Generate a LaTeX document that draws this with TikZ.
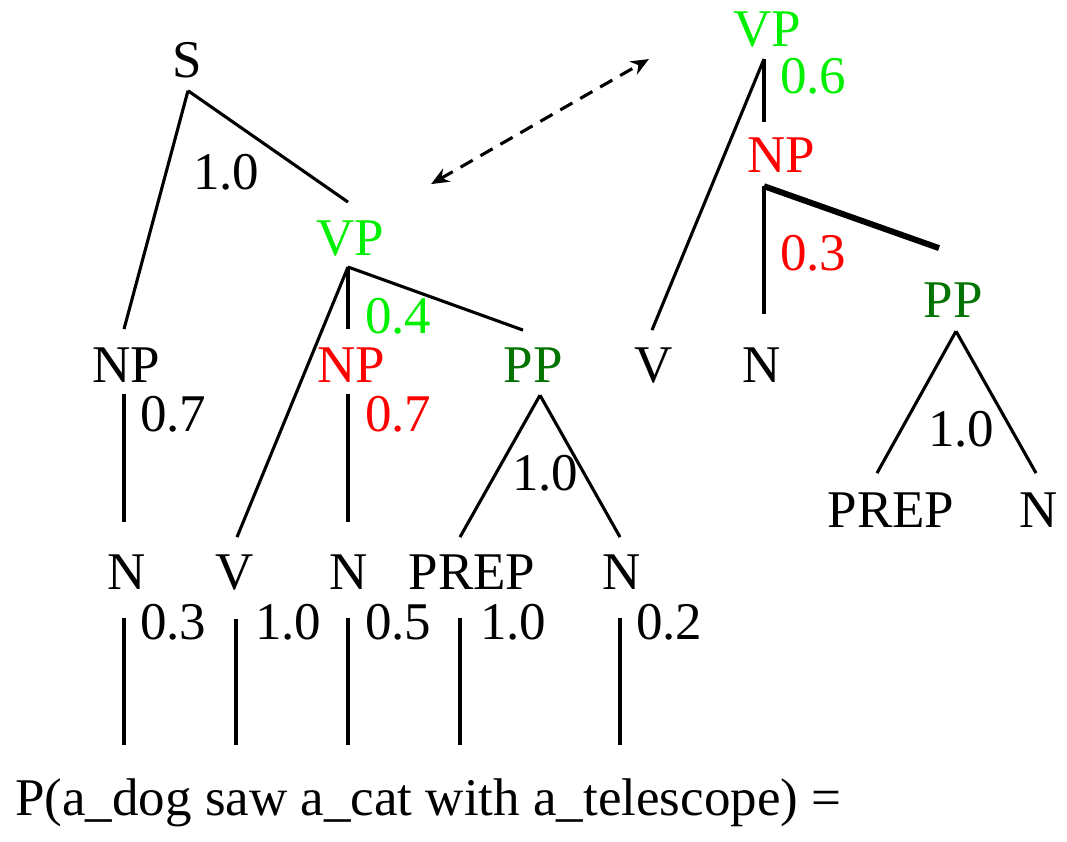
\documentclass[tikz,border=0pt]{standalone}
\usepackage{fontspec}
\setmainfont{Liberation Serif}
\usetikzlibrary{calc,arrows.meta}
\definecolor{lgreen}{RGB}{0,240,0}
\definecolor{dgreen}{RGB}{0,115,0}
\definecolor{pred}{RGB}{255,0,0}
\begin{document}
\begin{tikzpicture}[x=1pt,y=-1pt,
  lab/.style={inner sep=0pt,anchor=base,font=\fontsize{53}{60}\selectfont},
  prob/.style={inner sep=0pt,anchor=base west,font=\fontsize{53}{60}\selectfont},
  edge/.style={line width=3.1pt},
  thickedge/.style={line width=6pt},
  link/.style={line width=3.1pt,dash pattern=on 14pt off 9pt,{Stealth[length=18pt,width=15pt]}-{Stealth[length=18pt,width=15pt]}}]
\useasboundingbox (0,0) rectangle (1067,842);
% left tree nodes
\node[lab] (S) at (187,78) {S};
\node[lab,text=lgreen] (VPa) at (350,255) {VP};
\node[lab] (NPa) at (126,382) {NP};
\node[lab,text=pred] (NPb) at (351,382) {NP};
\node[lab,text=dgreen] (PPa) at (533,382) {PP};
\node[lab] (Na) at (127,589) {N};
\node[lab] (Va) at (235,589) {V};
\node[lab] (Nb) at (349,589) {N};
\node[lab] (PREPa) at (472,589) {PREP};
\node[lab] (Nc) at (622,589) {N};
% probabilities left
\node[prob] (p10s) at (193,190) {1.0};
\node[prob,text=lgreen] (p04) at (365,333) {0.4};
\node[prob] (p07a) at (140,431) {0.7};
\node[prob,text=pred] (p07b) at (365,431) {0.7};
\node[prob] (p10pp) at (512,490) {1.0};
\node[prob] (p03n) at (140,639) {0.3};
\node[prob] (p10v) at (255,639) {1.0};
\node[prob] (p05) at (365,639) {0.5};
\node[prob] (p10prep) at (480,639) {1.0};
\node[prob] (p02) at (636,639) {0.2};
% sentence
\node[prob] (sent) at (15,815) {P(a\_dog saw a\_cat with a\_telescope) =};
\coordinate (w1) at (124,745);
\coordinate (w2) at (236,745);
\coordinate (w3) at (348,745);
\coordinate (w4) at (460,745);
\coordinate (w5) at (620,745);
% right tree nodes
\node[lab,text=lgreen] (VPr) at (767,47) {VP};
\node[lab,text=pred] (NPr) at (781,173) {NP};
\node[lab,text=dgreen] (PPr) at (953,317) {PP};
\node[lab] (Vr) at (654,382) {V};
\node[lab] (Nr) at (762,382) {N};
\node[lab] (PREPr) at (891,527) {PREP};
\node[lab] (Nr2) at (1039,527) {N};
\node[prob,text=lgreen] (p06) at (780,94) {0.6};
\node[prob,text=pred] (p03r) at (780,270) {0.3};
\node[prob] (p10r) at (928,446) {1.0};
% left tree edges
\draw[edge] ($(S.south)+(1,12)$) -- ($(NPa.north)+(-2,-18)$);
\draw[edge] ($(S.south)+(1,12)$) -- ($(VPa.north)+(-2,-18)$);
\draw[edge] ($(VPa.south)+(-2,11)$) -- ($(Va.north)+(2,-17)$);
\draw[edge] ($(VPa.south)+(-2,11)$) -- ($(NPb.north)+(-3,-18)$);
\draw[edge] ($(VPa.south)+(-2,11)$) -- ($(PPa.north)+(-10,-17)$);
\draw[edge] ($(NPa.south)+(-2,12)$) -- ($(Na.north)+(-3,-32)$);
\draw[edge] ($(NPb.south)+(-3,12)$) -- ($(Nb.north)+(-1,-32)$);
\draw[edge] ($(PPa.south)+(7,13)$) -- ($(PREPa.north)+(-12,-17)$);
\draw[edge] ($(PPa.south)+(7,13)$) -- ($(Nc.north)+(-2,-17)$);
% word edges
\draw[edge] ($(Na.south)+(-3,29)$) -- (w1);
\draw[edge] ($(Va.south)+(1,29)$) -- (w2);
\draw[edge] ($(Nb.south)+(-1,29)$) -- (w3);
\draw[edge] ($(PREPa.south)+(-12,29)$) -- (w4);
\draw[edge] ($(Nc.south)+(-2,29)$) -- (w5);
% right tree edges
\draw[edge] ($(VPr.south)+(-3,11)$) -- ($(NPr.north)+(-17,-16)$);
\draw[edge] ($(VPr.south)+(-3,11)$) -- ($(Vr.north)+(-2,-17)$);
\draw[edge] ($(NPr.south)+(-17,13)$) -- ($(Nr.north)+(2,-33)$);
\draw[thickedge] ($(NPr.south)+(-17,13)$) -- ($(PPr.north)+(-14,-34)$);
\draw[edge] ($(PPr.south)+(3,14)$) -- ($(PREPr.north)+(-14,-19)$);
\draw[edge] ($(PPr.south)+(3,14)$) -- ($(Nr2.north)+(-3,-19)$);
% dashed double arrow
\draw[link] ($(VPa.north east)+(47,-36)$) -- ($(VPr.west)+(-84,29)$);
\end{tikzpicture}
\end{document}
